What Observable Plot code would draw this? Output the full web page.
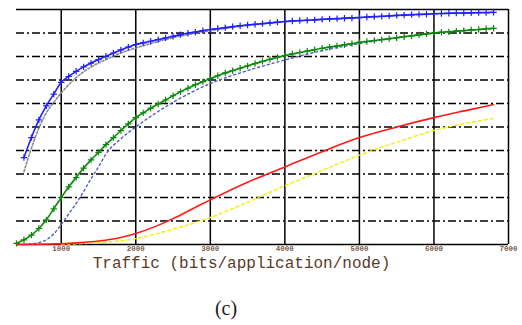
<!DOCTYPE html>
<html>
<head>
<meta charset="utf-8">
<script src="https://cdn.jsdelivr.net/npm/d3@7"></script>
<script src="https://cdn.jsdelivr.net/npm/@observablehq/plot@0.6"></script>
<style>
  body { margin: 0; background: #fff; width: 522px; height: 325px; position: relative; overflow: hidden; }
  #caption { position: absolute; left: 226px; top: 297px; transform: translateX(-50%); font-family: "Liberation Serif", "DejaVu Serif", serif; font-size: 20px; color: #1a1a1a; }
</style>
</head>
<body>
<div id="chart"></div>
<div id="caption">(c)</div>
<script>
// x ticks and grid
const xTicks = [1000, 2000, 3000, 4000, 5000, 6000, 7000];
const yGrid = [0.1, 0.2, 0.3, 0.4, 0.5, 0.6, 0.7, 0.8, 0.9];
const xLabel = "Traffic (bits/application/node)";

// Blue (simulation, with markers)
const blueX = [500,600,700,800,900,1000,1100,1200,1300,1400,1500,1600,1700,1800,1900,2000,2100,2200,2300,2400,2500,2600,2700,2800,2900,3000,3100,3200,3300,3400,3500,3600,3700,3800,3900,4000,4100,4200,4300,4400,4500,4600,4700,4800,4900,5000,5100,5200,5300,5400,5500,5600,5700,5800,5900,6000,6100,6200,6300,6400,6500,6600,6700,6800];
const blueY = [0.37,0.455,0.53,0.59,0.64,0.69,0.715,0.737,0.756,0.772,0.787,0.801,0.815,0.828,0.84,0.851,0.858,0.865,0.872,0.879,0.886,0.893,0.899,0.904,0.91,0.915,0.919,0.923,0.927,0.931,0.934,0.937,0.94,0.943,0.946,0.949,0.951,0.953,0.954,0.956,0.958,0.96,0.961,0.963,0.964,0.966,0.968,0.97,0.971,0.973,0.975,0.976,0.978,0.979,0.98,0.982,0.983,0.984,0.985,0.985,0.986,0.987,0.987,0.988];

// Gray dotted (model for blue)
const grayX = [500,600,700,800,900,1000,1200,1400,1600,1800,2000,2500,3000,3500,4000,5000,6000,6800];
const grayY = [0.31,0.41,0.495,0.56,0.605,0.645,0.71,0.755,0.787,0.815,0.836,0.88,0.91,0.932,0.948,0.965,0.981,0.987];

// Green (simulation, with markers)
const greenX = [400,500,600,700,800,900,1000,1100,1200,1300,1400,1500,1600,1700,1800,1900,2000,2100,2200,2300,2400,2500,2600,2700,2800,2900,3000,3100,3200,3300,3400,3500,3600,3700,3800,3900,4000,4100,4200,4300,4400,4500,4600,4700,4800,4900,5000,5100,5200,5300,5400,5500,5600,5700,5800,5900,6000,6100,6200,6300,6400,6500,6600,6700,6800];
const greenY = [0.005,0.02,0.04,0.068,0.105,0.152,0.2,0.245,0.285,0.325,0.36,0.392,0.425,0.455,0.485,0.513,0.54,0.56,0.58,0.598,0.615,0.633,0.65,0.665,0.68,0.693,0.706,0.718,0.73,0.74,0.75,0.76,0.77,0.779,0.788,0.796,0.804,0.811,0.817,0.823,0.829,0.835,0.84,0.845,0.85,0.855,0.86,0.864,0.868,0.872,0.876,0.88,0.884,0.888,0.892,0.896,0.9,0.903,0.905,0.908,0.91,0.913,0.915,0.918,0.92];

// Blue dotted (model for green)
const bdotX = [500,600,700,800,900,1000,1100,1200,1300,1400,1500,1600,1800,2000,2500,3000,3500,4000,4500,5000,6000,6800];
const bdotY = [0.0,0.003,0.008,0.02,0.045,0.085,0.13,0.175,0.225,0.28,0.33,0.385,0.45,0.5,0.605,0.685,0.74,0.785,0.825,0.855,0.9,0.918];

// Red (solid)
const redX = [400,1000,1200,1500,1800,2000,2250,2500,2750,3000,3500,4000,4500,5000,5500,6000,6500,6800];
const redY = [0.0,0.003,0.007,0.015,0.03,0.047,0.075,0.11,0.15,0.19,0.265,0.33,0.395,0.455,0.5,0.54,0.575,0.596];

// Yellow (dashed)
const yelX = [1000,1500,2000,2500,3000,3500,4000,4500,5000,5500,6000,6500,6800];
const yelY = [0.0,0.008,0.025,0.065,0.115,0.18,0.25,0.315,0.38,0.435,0.485,0.52,0.536];

const pts = (xs, ys) => xs.map((x, i) => ({x, y: ys[i]}));
const blue = pts(blueX, blueY), gray = pts(grayX, grayY), green = pts(greenX, greenY);
const bdot = pts(bdotX, bdotY), red = pts(redX, redY), yel = pts(yelX, yelY);

const chart = Plot.plot({
  width: 522,
  height: 275,
  marginLeft: 16,
  marginRight: 14,
  marginTop: 9,
  marginBottom: 31,
  x: {domain: [400, 7000], axis: null},
  y: {domain: [0, 1], axis: null},
  marks: [
    Plot.ruleY(yGrid, {stroke: "#000", strokeWidth: 1.3, strokeDasharray: "8,3,2,3"}),
    Plot.ruleX(xTicks, {stroke: "#000", strokeWidth: 1.5}),
    Plot.ruleY([0, 1], {stroke: "#000", strokeWidth: 1.6}),
    Plot.axisX(xTicks, {tickSize: 0, tickPadding: 1, label: null, tickFormat: d => String(d), fontSize: 7.5, fill: "#7a5a4a", fontFamily: "Liberation Mono, monospace", fontWeight: "bold"}),
    Plot.text([xLabel], {frameAnchor: "bottom", dx: -21, dy: 23, fontSize: 16, fontFamily: "Liberation Mono, monospace", fill: "#5a3a2a"}),
    Plot.line(gray, {x: "x", y: "y", stroke: "#8a8a8a", strokeWidth: 1.6, strokeDasharray: "2,2", curve: "monotone-x"}),
    Plot.line(bdot, {x: "x", y: "y", stroke: "#4f5fc0", strokeWidth: 1.4, strokeDasharray: "2,3", curve: "monotone-x"}),
    Plot.line(yel, {x: "x", y: "y", stroke: "#f0f000", strokeWidth: 1.4, strokeDasharray: "3,3", curve: "monotone-x"}),
    Plot.line(red, {x: "x", y: "y", stroke: "#ff1a1a", strokeWidth: 1.6, curve: "monotone-x"}),
    Plot.line(blue, {x: "x", y: "y", stroke: "#2020ff", strokeWidth: 1.6, curve: "monotone-x"}),
    Plot.dot(blue, {x: "x", y: "y", symbol: "plus", r: 2.2, stroke: "#2020ff", strokeWidth: 1.2}),
    Plot.line(green, {x: "x", y: "y", stroke: "#0a8a0a", strokeWidth: 1.6, curve: "monotone-x"}),
    Plot.dot(green, {x: "x", y: "y", symbol: "plus", r: 2.2, stroke: "#0a8a0a", strokeWidth: 1.2})
  ]
});
document.getElementById("chart").appendChild(chart);
</script>
</body>
</html>
